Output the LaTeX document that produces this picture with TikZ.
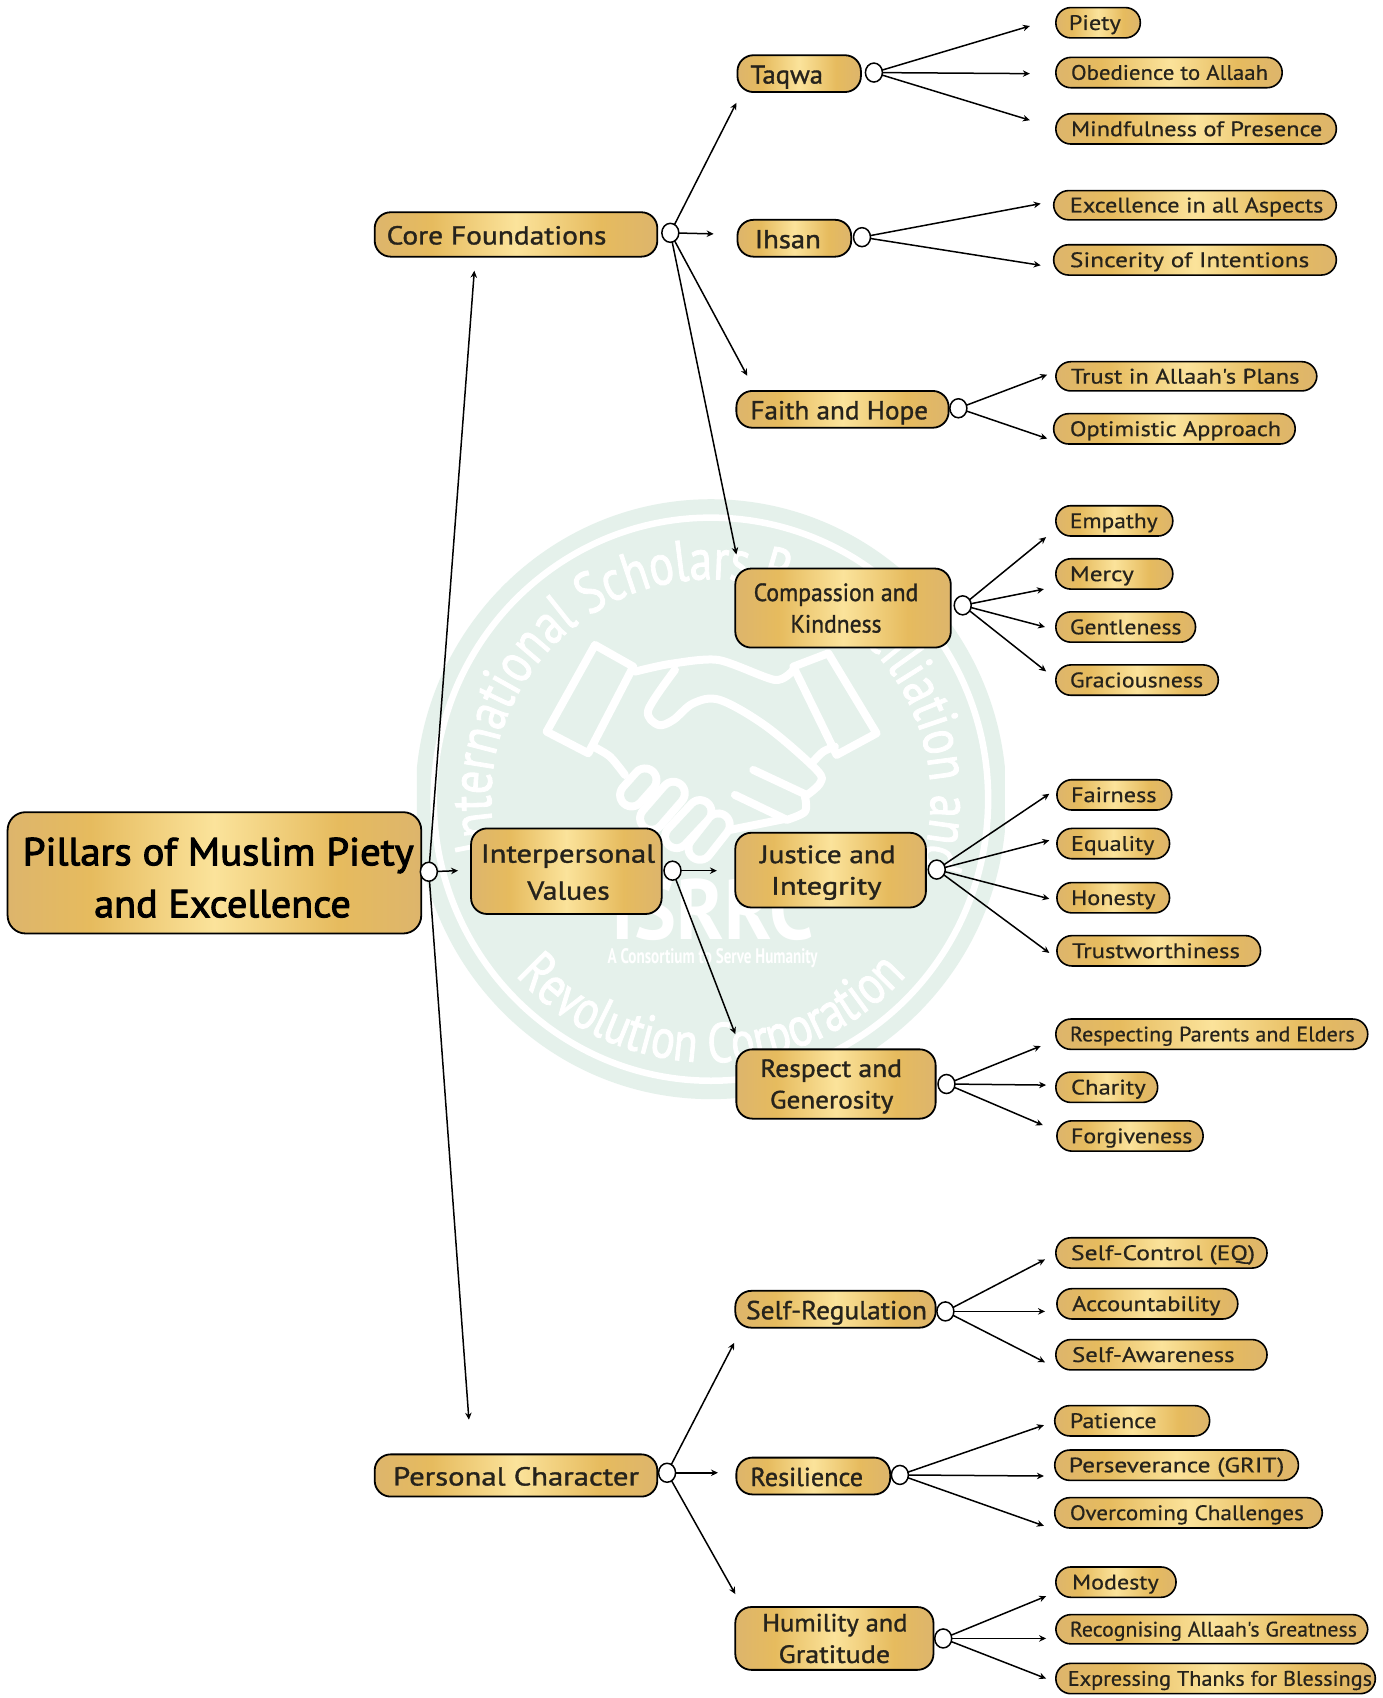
\documentclass[tikz,border=0pt]{standalone}
\usepackage{fontspec}
\usepackage{graphicx}
\setmainfont{PT Sans}
\newfontfamily\leaff{PT Sans}[RawFeature={embolden=0.5}]
\newfontfamily\midf{PT Sans}[RawFeature={embolden=1.2}]
\newfontfamily\rootf{PT Sans}[RawFeature={embolden=2.5}]
\newfontfamily\wmfont{PT Sans}[FakeStretch=0.79,RawFeature={embolden=1.5}]
\newfontfamily\wmbold{PT Sans Bold}[FakeStretch=0.72]
\usetikzlibrary{arrows.meta,shapes.geometric,decorations.text}
\definecolor{inkc}{HTML}{26231C}
\definecolor{wmc}{HTML}{E5F1EB}
\definecolor{gtan}{HTML}{DDB56C}
\definecolor{ggold}{HTML}{E6BB5E}
\definecolor{glight}{HTML}{FBE39B}
\pgfdeclarehorizontalshading{goldshade}{100bp}{color(0bp)=(gtan);color(25bp)=(gtan);color(35bp)=(ggold);color(50bp)=(glight);color(65bp)=(ggold);color(75bp)=(gtan);color(100bp)=(gtan)}
\def\tshift{0pt}
\tikzset{
  tsh/.style={execute at begin node={\def\tshift{#1}}},
  allbox/.style={draw=black,line width=1.8pt,shading=goldshade,inner sep=0pt,outer sep=0pt,align=center,text=inkc},
  rootbox/.style={allbox,tsh=-8.7pt,rounded corners=18pt,text=black,font=\fontsize{39}{52}\selectfont\rootf},
  corebox/.style={allbox,tsh=-3.5pt,rounded corners=16pt,font=\fontsize{26}{37}\selectfont\midf},
  subbox/.style={allbox,tsh=-2.5pt,rounded corners=16pt,font=\fontsize{25}{31.5}\selectfont\midf},
  leafbox/.style={allbox,tsh=-2pt,rounded corners=15pt,line width=1.6pt,font=\fontsize{21}{24}\selectfont\leaff},
  jct/.style={ellipse,draw=black,fill=white,line width=1.5pt,minimum width=17pt,minimum height=19pt,inner sep=0pt,outer sep=0pt},
  conn/.style={draw=black,line width=1.5pt,-{Stealth[length=7pt,width=6.5pt]}},
  hand/.style={draw=white,line width=8pt,line cap=round,line join=round},
  fingerout/.style={draw=white,line width=31pt,line cap=round},
  fingerin/.style={draw=wmc,line width=15pt,line cap=round}
}
\newcommand{\bx}[7]{%
  \def\cxa{#3}\def\cxb{#4}%
  \node[#1,minimum width={(#4-#3)*1.083pt},minimum height={(#6-#5)*1.083pt}] (#2) at ({(#3+#4)/2},{(#5+#6)/2}) {#7};%
}
\newcommand{\txtl}[3]{%
  \pgfmathsetlengthmacro\bw{(\cxb-\cxa)*1.083pt}%
  \pgfmathsetlengthmacro\pd{(#1-\cxa)*1.083pt}%
  \pgfmathsetlengthmacro\fw{(#2-#1)*1.083pt}%
  \makebox[\bw][l]{\vphantom{Apgy}\hspace*{\pd}\raisebox{\tshift}[\height][\depth]{\resizebox{\fw}{\height}{#3}}}%
}
\newcommand{\conn}[4]{\coordinate (#2) at (#3,#4); \draw[conn] (#1) -- (#2);}
\begin{document}
\begin{tikzpicture}[x=1.083pt,y=-1.083pt]
\useasboundingbox (0,0) rectangle (1277,1568);
\fill[white] (0,0) rectangle (1277,1568);
% watermark
\begin{scope}
\clip (385,455) rectangle (928,1020);
\begin{scope}[shift={(656.5,738)},x=1.083pt,y=1.083pt]
  \fill[wmc] (0,0) ellipse[x radius=273,y radius=277];
  \draw[white,line width=6.5pt] (0,0) ellipse[x radius=256,y radius=260];
  \path[decorate,decoration={text along path,text align={left},
    text={|\fontsize{58}{62}\selectfont\wmfont\color{white}|International Scholars Reconciliation and}}]
    (193:203) arc[start angle=193,end angle=-40,radius=203];
  \path[decorate,decoration={text along path,text align={fit to path},
    text={|\fontsize{56}{60}\selectfont\wmfont\color{white}|Revolution Corporation}}]
    (222:243) arc[start angle=222,end angle=318,radius=243];
\end{scope}
\begin{scope}[shift={(489.4,572.5)},x=0.3333pt,y=-0.3333pt]
  \draw[hand] (195,75) -- (50,335) -- (175,400) -- (310,140) -- cycle;
  \draw[hand] (895,100) -- (1040,340) -- (920,405) -- (790,140) -- cycle;
  \draw[hand] plot[smooth,tension=0.45] coordinates {(315,155) (420,132) (565,120) (735,180) (790,150)};
  \draw[hand] plot[smooth,tension=0.55] coordinates {(435,150) (355,270) (385,315) (430,300) (490,250) (570,240) (710,320) (860,450) (870,490) (825,530)};
  \draw[hand] plot[smooth,tension=0.55] coordinates {(825,530) (825,575) (770,600)};
  \draw[hand] plot[smooth,tension=0.5] coordinates {(190,380) (240,410) (285,465)};
  \draw[hand] plot[smooth,tension=0.5] coordinates {(850,425) (880,395) (915,380)};
  \draw[hand] (670,450) -- (830,525);
  \draw[hand] (615,525) -- (765,597);
  \draw[hand] (765,597) -- (600,630);
  \draw[fingerout] (305,525) -- (345,480);
  \draw[fingerout] (365,595) -- (430,520);
  \draw[fingerout] (440,650) -- (510,575);
  \draw[fingerout] (510,685) -- (565,615);
  \draw[fingerin] (305,525) -- (345,480);
  \draw[fingerin] (365,595) -- (430,520);
  \draw[fingerin] (440,650) -- (510,575);
  \draw[fingerin] (510,685) -- (565,615);
\end{scope}
\node[inner sep=0pt,text=white,anchor=south] (wmi) at (658,869) {\resizebox{201.4pt}{61pt}{\wmbold ISRRC}};
\node[inner sep=0pt,text=white] (wmt) at (658,885) {\resizebox{210pt}{15pt}{\wmbold A Consortium to Serve Humanity}};
\end{scope}
% boxes
\bx{rootbox}{root}{7}{389}{750}{862}{\txtl{21}{382}{Pillars of Muslim Piety}\\\txtl{87}{324}{and Excellence}}
\bx{corebox}{core}{346}{607}{196}{237}{\txtl{357}{560}{Core Foundations}}
\bx{corebox}{inter}{435}{611}{765}{844}{\txtl{444}{605}{Interpersonal}\\\txtl{487}{563}{Values}}
\bx{corebox}{pers}{346}{607}{1343}{1382}{\txtl{363}{590}{Personal Character}}
\bx{corebox}{taqwa}{681}{795}{51}{85}{\txtl{693}{760}{Taqwa}}
\bx{corebox}{ihsan}{681}{786}{203}{237}{\txtl{697}{758}{Ihsan}}
\bx{corebox}{faith}{680}{876}{361}{395}{\txtl{693}{857}{Faith and Hope}}
\bx{subbox}{comp}{679}{878}{525}{598}{\txtl{696}{848}{Compassion and}\\\txtl{730}{814}{Kindness}}
\bx{subbox}{just}{679}{855}{769}{838}{\txtl{702}{827}{Justice and}\\\txtl{712}{814}{Integrity}}
\bx{subbox}{resp}{680}{864}{969}{1033}{\txtl{702}{833}{Respect and}\\\txtl{711}{825}{Generosity}}
\bx{corebox}{selfr}{679}{864}{1192}{1226}{\txtl{689}{856}{Self-Regulation}}
\bx{corebox}{resil}{680}{822}{1346}{1380}{\txtl{693}{797}{Resilience}}
\bx{subbox}{humil}{679}{862}{1484}{1542}{\txtl{704}{838}{Humility and}\\\txtl{719}{822}{Gratitude}}
% leaves
\bx{leafbox}{l1}{975}{1053}{7}{35}{\txtl{987}{1035}{Piety}}
\bx{leafbox}{l2}{975}{1184}{53}{81}{\txtl{989}{1171}{Obedience to Allaah}}
\bx{leafbox}{l3}{975}{1234}{105}{133}{\txtl{989}{1221}{Mindfulness of Presence}}
\bx{leafbox}{l4}{973}{1234}{176}{203}{\txtl{988}{1222}{Excellence in all Aspects}}
\bx{leafbox}{l5}{973}{1234}{226}{254}{\txtl{988}{1209}{Sincerity of Intentions}}
\bx{leafbox}{l6}{975}{1216}{334}{361}{\txtl{989}{1200}{Trust in Allaah's Plans}}
\bx{leafbox}{l7}{973}{1196}{382}{410}{\txtl{988}{1183}{Optimistic Approach}}
\bx{leafbox}{l8}{975}{1083}{467}{495}{\txtl{988}{1069}{Empathy}}
\bx{leafbox}{l9}{975}{1083}{516}{544}{\txtl{988}{1047}{Mercy}}
\bx{leafbox}{l10}{975}{1104}{565}{593}{\txtl{988}{1091}{Gentleness}}
\bx{leafbox}{l11}{975}{1125}{614}{642}{\txtl{988}{1111}{Graciousness}}
\bx{leafbox}{l12}{976}{1082}{720}{748}{\txtl{989}{1068}{Fairness}}
\bx{leafbox}{l13}{976}{1080}{765}{793}{\txtl{989}{1066}{Equality}}
\bx{leafbox}{l14}{976}{1080}{815}{843}{\txtl{989}{1067}{Honesty}}
\bx{leafbox}{l15}{976}{1164}{864}{892}{\txtl{990}{1145}{Trustworthiness}}
\bx{leafbox}{l16}{975}{1263}{941}{969}{\txtl{988}{1251}{Respecting Parents and Elders}}
\bx{leafbox}{l17}{975}{1069}{990}{1018}{\txtl{989}{1058}{Charity}}
\bx{leafbox}{l18}{976}{1111}{1035}{1063}{\txtl{989}{1101}{Forgiveness}}
\bx{leafbox}{l19}{975}{1170}{1143}{1171}{\txtl{989}{1159}{Self-Control (EQ)}}
\bx{leafbox}{l20}{976}{1143}{1190}{1218}{\txtl{990}{1127}{Accountability}}
\bx{leafbox}{l21}{975}{1170}{1237}{1265}{\txtl{990}{1140}{Self-Awareness}}
\bx{leafbox}{l22}{974}{1117}{1298}{1326}{\txtl{988}{1068}{Patience}}
\bx{leafbox}{l23}{974}{1199}{1339}{1367}{\txtl{987}{1186}{Perseverance (GRIT)}}
\bx{leafbox}{l24}{974}{1221}{1383}{1411}{\txtl{988}{1204}{Overcoming Challenges}}
\bx{leafbox}{l25}{975}{1086}{1447}{1475}{\txtl{990}{1070}{Modesty}}
\bx{leafbox}{l26}{975}{1263}{1491}{1518}{\txtl{988}{1253}{Recognising Allaah's Greatness}}
\bx{leafbox}{l27}{975}{1270}{1536}{1564}{\txtl{986}{1267}{Expressing Thanks for Blessings}}
% junctions
\node[jct] (jroot) at (396,805) {};
\node[jct] (jcore) at (619,215) {};
\node[jct] (jinter) at (621,804) {};
\node[jct] (jpers) at (616,1360) {};
\node[jct] (jtaqwa) at (807,67) {};
\node[jct] (jihsan) at (796,219) {};
\node[jct] (jfaith) at (885,377) {};
\node[jct] (jcomp) at (889,559) {};
\node[jct] (jjust) at (865,803) {};
\node[jct] (jresp) at (874,1001) {};
\node[jct] (jselfr) at (873,1211) {};
\node[jct] (jresil) at (831,1362) {};
\node[jct] (jhumil) at (871,1513) {};
% connectors
\conn{jroot}{a1}{438}{250}
\conn{jroot}{a2}{423}{804}
\conn{jroot}{a3}{433}{1311}
\conn{jcore}{a4}{680}{95}
\conn{jcore}{a5}{659}{216}
\conn{jcore}{a6}{690}{347}
\conn{jcore}{a7}{680}{512}
\conn{jinter}{a8}{662}{804}
\conn{jinter}{a9}{679}{955}
\conn{jpers}{a10}{678}{1240}
\conn{jpers}{a11}{663}{1360}
\conn{jpers}{a12}{679}{1472}
\conn{jtaqwa}{b1}{951}{24}
\conn{jtaqwa}{b2}{951}{68}
\conn{jtaqwa}{b3}{951}{111}
\conn{jihsan}{b4}{961}{188}
\conn{jihsan}{b5}{961}{245}
\conn{jfaith}{b6}{967}{346}
\conn{jfaith}{b7}{967}{405}
\conn{jcomp}{b8}{966}{496}
\conn{jcomp}{b9}{964}{544}
\conn{jcomp}{b10}{965}{579}
\conn{jcomp}{b11}{966}{620}
\conn{jjust}{b12}{969}{733}
\conn{jjust}{b13}{969}{776}
\conn{jjust}{b14}{969}{830}
\conn{jjust}{b15}{969}{880}
\conn{jresp}{b16}{961}{966}
\conn{jresp}{b17}{966}{1002}
\conn{jresp}{b18}{963}{1039}
\conn{jselfr}{b19}{965}{1163}
\conn{jselfr}{b20}{965}{1211}
\conn{jselfr}{b21}{965}{1258}
\conn{jresil}{b22}{964}{1316}
\conn{jresil}{b23}{964}{1363}
\conn{jresil}{b24}{964}{1409}
\conn{jhumil}{b25}{966}{1474}
\conn{jhumil}{b26}{966}{1513}
\conn{jhumil}{b27}{966}{1550}
\end{tikzpicture}
\end{document}
